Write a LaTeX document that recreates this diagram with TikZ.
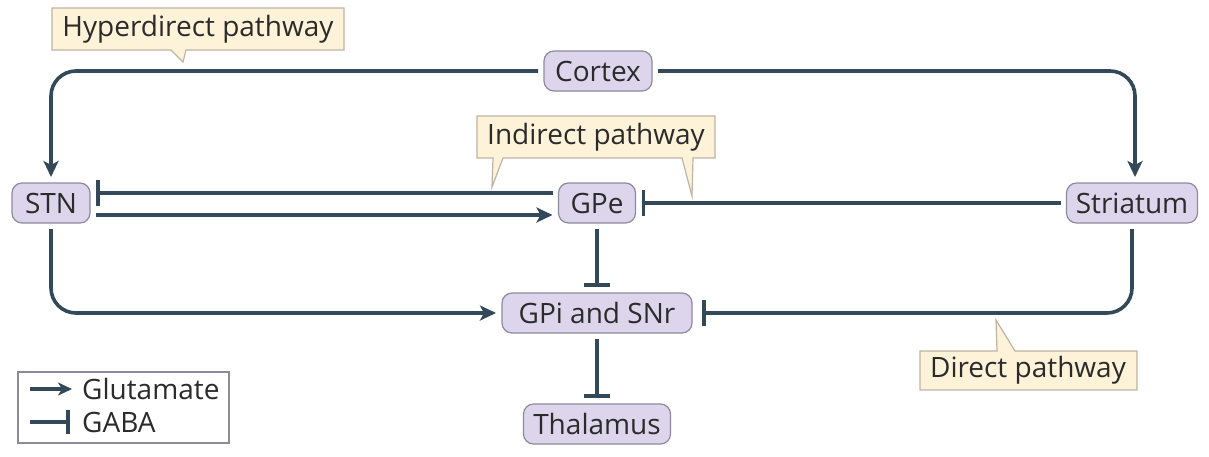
\documentclass[tikz,border=0pt]{standalone}
\usepackage{fontspec}
\setmainfont{Open Sans}
\usetikzlibrary{arrows.meta}
\definecolor{nodefill}{HTML}{DDD5EB}
\definecolor{nodeedge}{HTML}{8E8A9E}
\definecolor{callfill}{HTML}{FEF2D8}
\definecolor{calledge}{HTML}{BDB4A4}
\definecolor{linec}{HTML}{33495A}
\definecolor{textc}{HTML}{2B2B2B}
\tikzset{
  region/.style={draw=nodeedge, fill=nodefill, line width=1.2pt, rounded corners=10pt,
    minimum height=40pt, inner sep=0pt, outer sep=6pt, text=textc, font=\fontsize{28}{32}\selectfont},
  calltext/.style={inner sep=0pt, text=textc, font=\fontsize{28}{32}\selectfont},
  callbox/.style={draw=calledge, fill=callfill, line width=1.2pt, line join=miter},
  conn/.style={draw=linec, line width=3.6pt, rounded corners=25pt},
  exc/.style={conn, -{Stealth[length=16pt,width=15pt,inset=4pt]}},
  inh/.style={conn, -{Bar[width=26pt,length=3.6pt]}},
}
\begin{document}
\begin{tikzpicture}[x=1pt,y=-1pt]
\useasboundingbox[fill=white] (0,0) rectangle (1209,456);

% callouts
\draw[callbox] (52,8) -- (344,8) -- (344,50) -- (186,50) -- (183,62) -- (171,50) -- (52,50) -- cycle;
\node[calltext] (hyper) at (198,29) {Hyperdirect pathway};
\draw[callbox] (477,116) -- (715,116) -- (715,158) -- (693,158) -- (692,196) -- (682,158) -- (503,158) -- (492,187) -- (493,158) -- (477,158) -- cycle;
\node[calltext] (indirect) at (596,137) {Indirect pathway};
\draw[callbox] (920,351) -- (997,351) -- (996,320) -- (1015,351) -- (1137,351) -- (1137,390) -- (920,390) -- cycle;
\node[calltext] (direct) at (1028,370) {Direct pathway};

% nodes
\node[region, minimum width=108pt] (cortex) at (598,71) {Cortex};
\node[region, minimum width=78pt] (stn) at (51,203) {STN};
\node[region, minimum width=77pt] (gpe) at (597,203) {GPe};
\node[region, minimum width=131pt] (striatum) at (1132,203) {Striatum};
\node[region, minimum width=190pt] (gpi) at (597,313) {GPi and SNr};
\node[region, minimum width=147pt] (thal) at (597,424) {Thalamus};

% connectors
\draw[exc] (cortex.west) -| (stn.north);
\draw[exc] (cortex.east) -| ([xshift=3pt]striatum.north);
\draw[inh] ([yshift=10pt]gpe.west) -- ([yshift=10pt]stn.east);
\draw[exc] ([yshift=-12pt]stn.east) -- ([yshift=-12pt]gpe.west);
\draw[inh] (striatum.west) -- (gpe.east);
\draw[inh] (gpe.south) -- (gpi.north);
\draw[inh] (gpi.south) -- (thal.north);
\draw[exc] (stn.south) |- (gpi.west);
\draw[inh] (striatum.south) |- ([xshift=4pt]gpi.east);

% legend
\draw[draw=nodeedge, line width=1.2pt] (18,372) rectangle (229,443);
\coordinate (g1) at (30,389);
\coordinate (g2) at (72,389);
\coordinate (b1) at (30,422);
\coordinate (b2) at (70,422);
\draw[exc, -{Stealth[length=14pt,width=13pt,inset=4pt]}] (g1) -- (g2);
\draw[inh, -{Bar[width=24pt,length=3.6pt]}] (b1) -- (b2);
\node[calltext, anchor=west] (glu) at (82,389) {Glutamate};
\node[calltext, anchor=west] (gaba) at (82,422) {GABA};
\end{tikzpicture}
\end{document}
